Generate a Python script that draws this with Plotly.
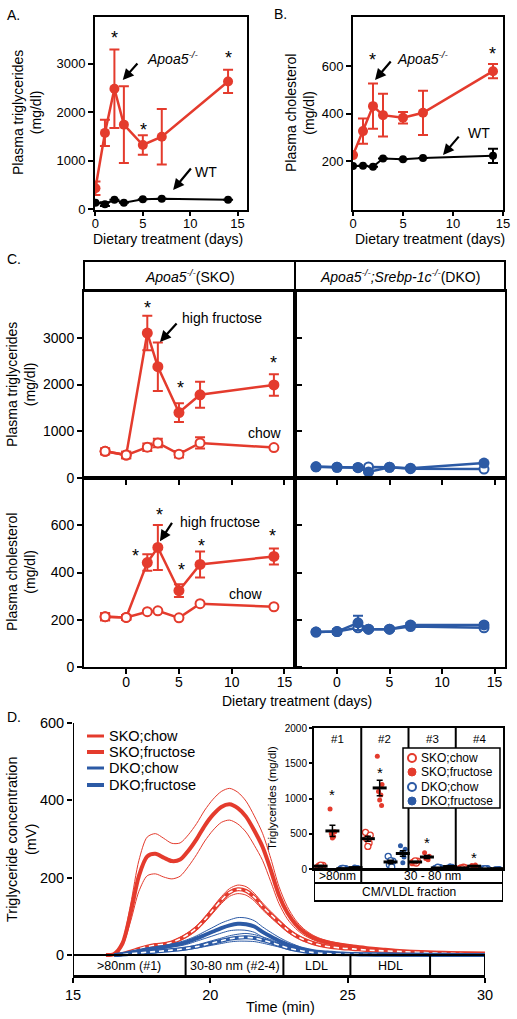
import plotly.graph_objects as go

W, H = 517, 1019
def px(x): return x / W
def py(y): return 1 - y / H

RED = "#E43B2D"
BLUE = "#2C5AA5"
FONT = "Liberation Sans, Arial, Helvetica, sans-serif"

# ---------------- Panel A / B data ----------------
days_ab = [0, 1, 2, 3, 5, 7, 14]
tg_apoa5 = [430, 1570, 2480, 1740, 1320, 1490, 2630]
tg_apoa5_se = [140, 270, 810, 790, 200, 570, 240]
tg_wt = [130, 100, 190, 130, 200, 210, 190]
tg_wt_se = [None, 40, None, None, None, None, None]
chol_apoa5 = [225, 326, 431, 393, 382, 403, 578]
chol_apoa5_se = [None, 53, 95, 90, 24, 93, 30]
chol_wt = [179, 180, 176, 211, 207, 213, 222]
chol_wt_se = [None, None, None, None, None, None, 30]

# ---------------- Panel C data ----------------
days_c = [-2, 0, 2, 3, 5, 7, 14]
sko_tg_fruc = [570, 490, 3100, 2380, 1400, 1780, 1990]
sko_tg_fruc_se = [60, 70, 370, 520, 200, 280, 230]
sko_tg_chow = [570, 490, 660, 750, 510, 750, 650]
sko_tg_chow_se = [60, 70, 80, 90, 70, 120, None]
sko_ch_fruc = [213, 210, 442, 506, 323, 434, 468]
sko_ch_fruc_se = [15, 10, 35, 95, 27, 55, 34]
sko_ch_chow = [213, 210, 234, 238, 208, 268, 255]
sko_ch_chow_se = [15, 10, None, None, None, None, None]
dko_tg_fruc = [240, 230, 225, 130, 230, 210, 320]
dko_tg_fruc_se = [20, 20, 45, 20, 20, 20, 25]
dko_tg_chow = [240, 230, 220, 235, 230, 200, 190]
dko_tg_chow_se = [None, None, None, None, None, None, None]
dko_ch_fruc = [148, 150, 187, 160, 160, 178, 178]
dko_ch_fruc_se = [8, 10, 30, 8, 8, 8, 8]
dko_ch_chow = [148, 150, 166, 160, 160, 171, 166]
dko_ch_chow_se = [None, None, None, None, None, None, None]

# ---------------- Panel D data (FPLC profiles) ----------------
t_min = [16.2, 16.5, 16.8, 17.1, 17.4, 17.7, 18.0, 18.3, 18.6, 18.9, 19.2, 19.5,
         19.8, 20.1, 20.4, 20.7, 21.0, 21.3, 21.6, 21.9, 22.2, 22.5, 22.8, 23.1,
         23.4, 23.7, 24.0, 24.4, 24.8, 25.2, 25.7, 26.3, 27.0, 28.0, 29.0, 30.0]
sko_fruc_mv = [0, 3, 30, 110, 205, 255, 262, 252, 243, 247, 270, 300,
               335, 363, 383, 390, 380, 358, 322, 280, 220, 155, 110, 80,
               60, 47, 38, 31, 26, 22, 18, 14, 10, 7, 5, 4]
sko_fruc_se = [0, 1, 6, 22, 40, 50, 52, 50, 46, 43, 41, 40,
               40, 40, 40, 41, 41, 40, 38, 35, 30, 22, 16, 11,
               8, 6, 5, 4, 3, 3, 2, 2, 1, 1, 1, 1]
sko_chow_mv = [None, 0, 3, 9, 16, 22, 26, 28, 33, 42, 54, 70,
               92, 117, 142, 162, 170, 166, 150, 126, 105, 85, 66, 51,
               40, 32, 26, 21, 18, 16, 13, 11, 9, 6, 4, 3]
sko_chow_se = [None, 0, 0.5, 1, 2, 2, 3, 3, 3, 4, 5, 6,
               7, 8, 9, 10, 11, 11, 10, 9, 8, 7, 6, 5,
               4, 3, 3, 2, 2, 2, 2, 1, 1, 1, 1, 1]
dko_fruc_mv = [None, 0, 3, 7, 11, 15, 18, 21, 25, 29, 35, 43,
               52, 61, 70, 77, 81, 80, 74, 60, 48, 37, 28, 21,
               15, 11, 8, 6, 4, 3, 2, 2, 1, 1, 0.5, 0.5]
dko_fruc_se = [None, 0, 0.5, 1, 2, 2.5, 3, 3.5, 4, 5, 6, 7,
               9, 11, 13, 14, 16, 16, 15, 13, 11, 9, 7, 5,
               3, 2, 2, 1, 1, 1, 0.5, 0.5, 0.5, 0.5, 0, 0]
dko_chow_mv = [None, 0, 1.5, 3.5, 5.5, 7.5, 9, 11, 13, 15, 18, 22,
               27, 32, 37, 42, 45, 46, 44, 39, 33, 26, 19, 14,
               10, 7, 5, 3.5, 2.5, 2, 1.5, 1, 1, 0.5, 0, 0]
dko_chow_se = [None, 0, 0.3, 0.7, 1, 1.5, 2, 2, 2.5, 3, 3.5, 4,
               5, 6, 7, 8, 9, 10, 9, 8, 7, 5, 4, 3,
               2, 1.5, 1, 1, 0.5, 0.5, 0.3, 0.2, 0.2, 0.1, 0, 0]

band_edges = [15, 19.1, 22.66, 25.1, 28.0, 30]
band_labels = [">80nm (#1)", "30-80 nm (#2-4)", "LDL", "HDL", ""]

# ---------------- Inset data ----------------
fractions = ["#1", "#2", "#3", "#4"]
sko_chow_pts = [[30, 50, 45, 25, 55], [520, 480, 430, 370, 320], [90, 110, 100, 85, 115], [10, 20, 15, 25, 5]]
sko_fruc_pts = [[850, 530, 500, 460, 440], [1600, 1200, 1100, 1050, 980, 900], [230, 180, 150, 130, 160], [50, 30, 40, 55, 35]]
dko_chow_pts = [[0, 5, 10, 3, 7], [180, 110, 60, 30, 120], [10, 20, 5, 15, 25], [0, 5, 2, 3, 1]]
dko_fruc_pts = [[10, 20, 30, 15, 25], [330, 280, 230, 170, 90], [30, 40, 20, 35, 45], [5, 8, 3, 6, 4]]
sko_chow_mean = [40, 430, 100, 15]
sko_chow_sem = [8, 35, 8, 4]
sko_fruc_mean = [540, 1150, 170, 40]
sko_fruc_sem = [80, 110, 20, 6]
dko_chow_mean = [5, 100, 15, 2]
dko_chow_sem = [2, 25, 4, 1]
dko_fruc_mean = [20, 220, 35, 5]
dko_fruc_sem = [4, 40, 5, 1]

fig = go.Figure()

def errbar(arr, color, w=5, th=2):
    return dict(type="data", array=arr, visible=True, color=color, thickness=th, width=w)

def add_series(x, y, se, color, xa, ya, filled=True, size=10, lw=2.5):
    if filled:
        mk = dict(size=size, color=color, line=dict(width=0))
    else:
        mk = dict(size=size - 1, color="white", line=dict(width=2, color=color))
    fig.add_trace(go.Scatter(x=x, y=y, mode="lines+markers", line=dict(color=color, width=lw),
                             marker=mk, error_y=errbar(se, color), xaxis=xa, yaxis=ya,
                             showlegend=False, hoverinfo="skip"))

# Panel A
add_series(days_ab, tg_wt, tg_wt_se, "black", "x", "y", size=8, lw=2)
add_series(days_ab, tg_apoa5, tg_apoa5_se, RED, "x", "y", size=10)
# Panel B
add_series(days_ab, chol_wt, chol_wt_se, "black", "x2", "y2", size=8, lw=2)
add_series(days_ab, chol_apoa5, chol_apoa5_se, RED, "x2", "y2", size=10)
# Panel C
add_series(days_c, sko_tg_fruc, sko_tg_fruc_se, RED, "x3", "y3", True, 11)
add_series(days_c, sko_tg_chow, sko_tg_chow_se, RED, "x3", "y3", False, 10)
add_series(days_c, dko_tg_chow, dko_tg_chow_se, BLUE, "x4", "y4", False, 10)
add_series(days_c, dko_tg_fruc, dko_tg_fruc_se, BLUE, "x4", "y4", True, 11)
add_series(days_c, sko_ch_fruc, sko_ch_fruc_se, RED, "x5", "y5", True, 11)
add_series(days_c, sko_ch_chow, sko_ch_chow_se, RED, "x5", "y5", False, 10)
add_series(days_c, dko_ch_chow, dko_ch_chow_se, BLUE, "x6", "y6", False, 10)
add_series(days_c, dko_ch_fruc, dko_ch_fruc_se, BLUE, "x6", "y6", True, 11)

# Panel D curves
def band(mean, se, sign):
    return [None if m is None else m + sign * s for m, s in zip(mean, se)]

def add_profile(mean, se, color, dashed):
    for sgn in (1, -1):
        fig.add_trace(go.Scatter(x=t_min, y=band(mean, se, sgn), mode="lines",
                                 line=dict(color=color, width=1, shape="spline", smoothing=0.8),
                                 xaxis="x7", yaxis="y7", showlegend=False, hoverinfo="skip"))
    fig.add_trace(go.Scatter(x=t_min, y=mean, mode="lines",
                             line=dict(color=color, width=4, shape="spline", smoothing=0.8),
                             xaxis="x7", yaxis="y7", showlegend=False, hoverinfo="skip"))
    if dashed:
        fig.add_trace(go.Scatter(x=t_min, y=mean, mode="lines",
                                 line=dict(color="white", width=1.6, dash="5px,4px", shape="spline", smoothing=0.8),
                                 xaxis="x7", yaxis="y7", showlegend=False, hoverinfo="skip"))

add_profile(sko_fruc_mv, sko_fruc_se, RED, False)
add_profile(sko_chow_mv, sko_chow_se, RED, True)
add_profile(dko_fruc_mv, dko_fruc_se, BLUE, False)
add_profile(dko_chow_mv, dko_chow_se, BLUE, True)

# Inset
group_off = [0.14, 0.39, 0.62, 0.88]
jit = [-0.05, 0.05, -0.025, 0.025, 0.0, 0.04]
groups = [
    (sko_chow_pts, sko_chow_mean, sko_chow_sem, RED, False),
    (sko_fruc_pts, sko_fruc_mean, sko_fruc_sem, RED, True),
    (dko_chow_pts, dko_chow_mean, dko_chow_sem, BLUE, False),
    (dko_fruc_pts, dko_fruc_mean, dko_fruc_sem, BLUE, True),
]
for g, (pts, mean, sem, color, filled) in enumerate(groups):
    xs, ys = [], []
    for i, vals in enumerate(pts):
        for k, v in enumerate(vals):
            xs.append(i + group_off[g] + jit[k % len(jit)])
            ys.append(v)
    if filled:
        mk = dict(size=5, color=color)
    else:
        mk = dict(size=6, color="white", line=dict(width=1.3, color=color))
    fig.add_trace(go.Scatter(x=xs, y=ys, mode="markers", marker=mk, xaxis="x8", yaxis="y8",
                             showlegend=False, hoverinfo="skip"))
for g, (pts, mean, sem, color, filled) in enumerate(groups):
    fig.add_trace(go.Scatter(x=[i + group_off[g] for i in range(len(fractions))], y=mean, mode="markers",
                             marker=dict(symbol="line-ew", size=10, line=dict(width=3, color="black")),
                             error_y=errbar(sem, "black", w=3, th=1.5),
                             xaxis="x8", yaxis="y8", showlegend=False, hoverinfo="skip"))

# ---------------- Axes ----------------
def ax(**kw):
    d = dict(showline=True, linecolor="black", linewidth=2, ticks="outside", ticklen=5, tickwidth=2,
             tickcolor="black", showgrid=False, zeroline=False, automargin=False,
             tickfont=dict(size=13, color="black", family=FONT))
    d.update(kw)
    return d

f14 = dict(size=14, color="black", family=FONT)
f145 = dict(size=14.5, color="black", family=FONT)
f10 = dict(size=10, color="black", family=FONT)

layout_axes = dict(
    xaxis=ax(domain=[px(95), px(247)], range=[-0.05, 16], tickvals=[0, 5, 10, 15], anchor="y", mirror=True,
             ticklen=4, ticklabelstandoff=-4),
    yaxis=ax(domain=[py(210), py(17)], range=[-20, 3959], tickvals=[0, 1000, 2000, 3000], anchor="x", mirror=True),
    xaxis2=ax(domain=[px(353), px(503)], range=[0, 15], tickvals=[0, 5, 10, 15], anchor="y2", mirror=True,
              ticklen=4, ticklabelstandoff=-4),
    yaxis2=ax(domain=[py(210), py(17)], range=[-6, 806], tickvals=[200, 400, 600], anchor="x2", mirror=True),
    xaxis3=ax(domain=[px(84), px(295)], range=[-4, 16], tickvals=[0, 5, 10, 15], showticklabels=False,
              anchor="y3", mirror=True),
    yaxis3=ax(domain=[py(478), py(291)], range=[0, 4000], tickvals=[0, 1000, 2000, 3000], anchor="x3",
              mirror="ticks", tickfont=f14),
    xaxis4=ax(domain=[px(295), px(505)], range=[-4, 16], tickvals=[0, 5, 10, 15], showticklabels=False,
              anchor="y4", mirror=True),
    yaxis4=ax(domain=[py(478), py(291)], range=[0, 4000], ticks="", showticklabels=False, anchor="x4", mirror=True),
    xaxis5=ax(domain=[px(84), px(295)], range=[-4, 16], tickvals=[0, 5, 10, 15], anchor="y5", mirror=True,
              tickfont=f14, ticklabelstandoff=-4),
    yaxis5=ax(domain=[py(667), py(478)], range=[0, 800], tickvals=[0, 200, 400, 600], anchor="x5",
              mirror="ticks", tickfont=f14),
    xaxis6=ax(domain=[px(295), px(505)], range=[-4, 16], tickvals=[0, 5, 10, 15], anchor="y6", mirror=True,
              tickfont=f14, ticklabelstandoff=-4),
    yaxis6=ax(domain=[py(667), py(478)], range=[0, 800], ticks="", showticklabels=False, anchor="x6", mirror=True),
    xaxis7=ax(domain=[px(73), px(485)], range=[15, 30], tickvals=[15, 20, 25, 30], anchor="y7", tickfont=f145),
    yaxis7=ax(domain=[py(976), py(723)], range=[-54, 600], tickvals=[0, 200, 400, 600], anchor="x7",
              showline=False, tickfont=f145),
    xaxis8=ax(domain=[px(314), px(503)], range=[0, 4], ticks="", showticklabels=False, anchor="y8", mirror=True),
    yaxis8=ax(domain=[py(869), py(728)], range=[0, 2000], tickvals=[0, 500, 1000, 1500, 2000], anchor="x8",
              mirror=True, ticklen=3, tickfont=f10),
)

# ---------------- Shapes ----------------
shapes = []
def line(x0, y0, x1, y1, xref="paper", yref="paper", w=2, color="black"):
    shapes.append(dict(type="line", x0=x0, y0=y0, x1=x1, y1=y1, xref=xref, yref=yref,
                       line=dict(color=color, width=w)))

# Panel C header strip
shapes.append(dict(type="rect", x0=px(84), x1=px(505), y0=py(291), y1=py(261), xref="paper", yref="paper",
                   line=dict(color="black", width=2)))
line(px(295), py(291), px(295), py(261))
# Panel D y-axis line (0..600) and band box
line(15, 0, 15, 600, "x7", "y7")
shapes.append(dict(type="rect", x0=band_edges[0], x1=band_edges[-1], y0=-54, y1=0, xref="x7", yref="y7",
                   line=dict(color="black", width=2)))
for e in band_edges[1:-1]:
    line(e, -54, e, 0, "x7", "y7")
# Inset dividers & bands
for i in range(1, len(fractions)):
    line(i, 0, i, 1, "x8", "y8 domain")
shapes.append(dict(type="rect", x0=0, x1=4, y0=py(901), y1=py(869), xref="x8", yref="paper",
                   line=dict(color="black", width=2)))
line(0, py(883), 4, py(883), "x8", "paper")
line(1, py(883), 1, py(869), "x8", "paper")

# Legends (manual)
ann = []
def txt(x, y, s, size=14, xref="paper", yref="paper", xanchor="center", yanchor="middle", angle=0, yshift=0):
    ann.append(dict(x=x, y=y, xref=xref, yref=yref, text=s, showarrow=False,
                    font=dict(size=size, family=FONT, color="black"), xanchor=xanchor, yanchor=yanchor,
                    textangle=angle, yshift=yshift))

d_legend = [("SKO;chow", RED, 3), ("SKO;fructose", RED, 4), ("DKO;chow", BLUE, 3), ("DKO;fructose", BLUE, 4)]
for (lab, col, w), yy in zip(d_legend, [736, 752, 768, 785]):
    line(px(87), py(yy), px(104), py(yy), w=w, color=col)
    txt(px(107), py(yy), lab, size=14.5, xanchor="left")

shapes.append(dict(type="rect", x0=px(403), x1=px(500), y0=py(808), y1=py(748), xref="paper", yref="paper",
                   line=dict(color="black", width=1.5), fillcolor="white"))
in_legend = [("SKO;chow", RED, False), ("SKO;fructose", RED, True), ("DKO;chow", BLUE, False), ("DKO;fructose", BLUE, True)]
for (lab, col, filled), yy in zip(in_legend, [758, 772, 787, 801]):
    shapes.append(dict(type="circle", xref="paper", yref="paper", x0=px(408), x1=px(416),
                       y0=py(yy + 4), y1=py(yy - 4), fillcolor=col if filled else "white",
                       line=dict(color=col, width=1 if filled else 2)))
    txt(px(419), py(yy), lab, size=12, xanchor="left")

# ---------------- Annotations ----------------
APOA5 = "<i>Apoa5<sup>-/-</sup></i>"
txt(px(5), py(15), "A.", xanchor="left")
txt(px(272), py(14), "B.", xanchor="left")
txt(px(5), py(259), "C.", xanchor="left")
txt(px(5), py(717), "D.", xanchor="left")

txt(px(27), py(113), "Plasma triglycerides<br>(mg/dl)", angle=-90)
txt(px(168), py(239), "Dietary treatment (days)")
txt(px(300), py(113), "Plasma cholesterol<br>(mg/dl)", angle=-90)
txt(px(430), py(239), "Dietary treatment (days)")
txt(px(21), py(385), "Plasma triglycerides<br>(mg/dl)", angle=-90)
txt(px(21), py(572), "Plasma cholesterol<br>(mg/dl)", angle=-90)
txt(px(297), py(701), "Dietary treatment (days)")
txt(px(190), py(276), APOA5 + "(SKO)")
txt(px(400), py(276), "<i>Apoa5<sup>-/-</sup>;Srebp-1c<sup>-/-</sup></i>(DKO)")
txt(px(21), py(840), "Triglyceride concentration<br>(mV)", size=14.5, angle=-90)
txt(px(280), py(1007), "Time (min)", size=14.5)
for a, b, lab in zip(band_edges[:-1], band_edges[1:], band_labels):
    if lab:
        txt((a + b) / 2, -27, lab, size=12.5, xref="x7", yref="y7")
txt(px(272), py(798), "Triglycerides (mg/dl)", size=11.5, angle=-90)
for i, f in enumerate(fractions):
    txt(i + 0.5, py(739), f, size=11.5, xref="x8")
txt(0.5, py(876), ">80nm", size=12, xref="x8")
txt(2.5, py(876), "30 - 80 nm", size=12, xref="x8")
txt(2, py(892), "CM/VLDL fraction", size=12, xref="x8")

# labels near curves
txt(5.28, 3113, APOA5, xref="x", yref="y", xanchor="left")
txt(10.3, 763, "WT", xref="x", yref="y", xanchor="left")
txt(4.2, 634, APOA5, xref="x2", yref="y2", xanchor="left")
txt(11.3, 318, "WT", xref="x2", yref="y2", xanchor="left")
txt(5.1, 3430, "high fructose", xref="x3", yref="y3", xanchor="left")
txt(11.4, 960, "chow", xref="x3", yref="y3", xanchor="left")
txt(4.9, 613, "high fructose", xref="x5", yref="y5", xanchor="left")
txt(9.6, 310, "chow", xref="x5", yref="y5", xanchor="left")

# significance stars
stars = [("x", "y", 2.0, 3629), ("x", "y", 5.1, 1732), ("x", "y", 14, 3216),
         ("x2", "y2", 1.9, 646), ("x2", "y2", 13.9, 672),
         ("x3", "y3", 2.0, 3750), ("x3", "y3", 5.1, 2030), ("x3", "y3", 14, 2570),
         ("x5", "y5", 0.9, 489), ("x5", "y5", 3.2, 664), ("x5", "y5", 5.2, 430),
         ("x5", "y5", 7.1, 532), ("x5", "y5", 13.9, 574)]
for xr, yr, xv, yv in stars:
    txt(xv, yv, "*", size=18, xref=xr, yref=yr, yshift=-5)
for i, yv in enumerate([1120, 1420, 430, 215]):
    txt(i + group_off[1], yv, "*", size=15, xref="x8", yref="y8", yshift=-4)

# arrows
arrows = [("x", "y", 2.88, 2660, 16, -18), ("x", "y", 8.2, 392, 19, -23),
          ("x2", "y2", 2.2, 541, 17, -20), ("x2", "y2", 9.0, 225, 17, -20),
          ("x3", "y3", 3.2, 2910, 18, -20), ("x5", "y5", 3.2, 532, 13, -20)]
for xr, yr, xv, yv, dx, dy in arrows:
    ann.append(dict(x=xv, y=yv, xref=xr, yref=yr, text="", showarrow=True, arrowhead=2, arrowsize=1,
                    arrowwidth=2.2, arrowcolor="black", ax=dx, ay=dy))

fig.update_layout(
    template="none",
    width=W, height=H, autosize=False,
    margin=dict(l=0, r=0, t=0, b=0, pad=0, autoexpand=False),
    paper_bgcolor="white", plot_bgcolor="white",
    showlegend=False,
    font=dict(family=FONT, color="black"),
    shapes=shapes, annotations=ann,
    **layout_axes,
)

fig.write_html("out.html", config={"displayModeBar": False},
               post_script="document.body.style.margin='0';document.body.style.overflow='hidden';")
